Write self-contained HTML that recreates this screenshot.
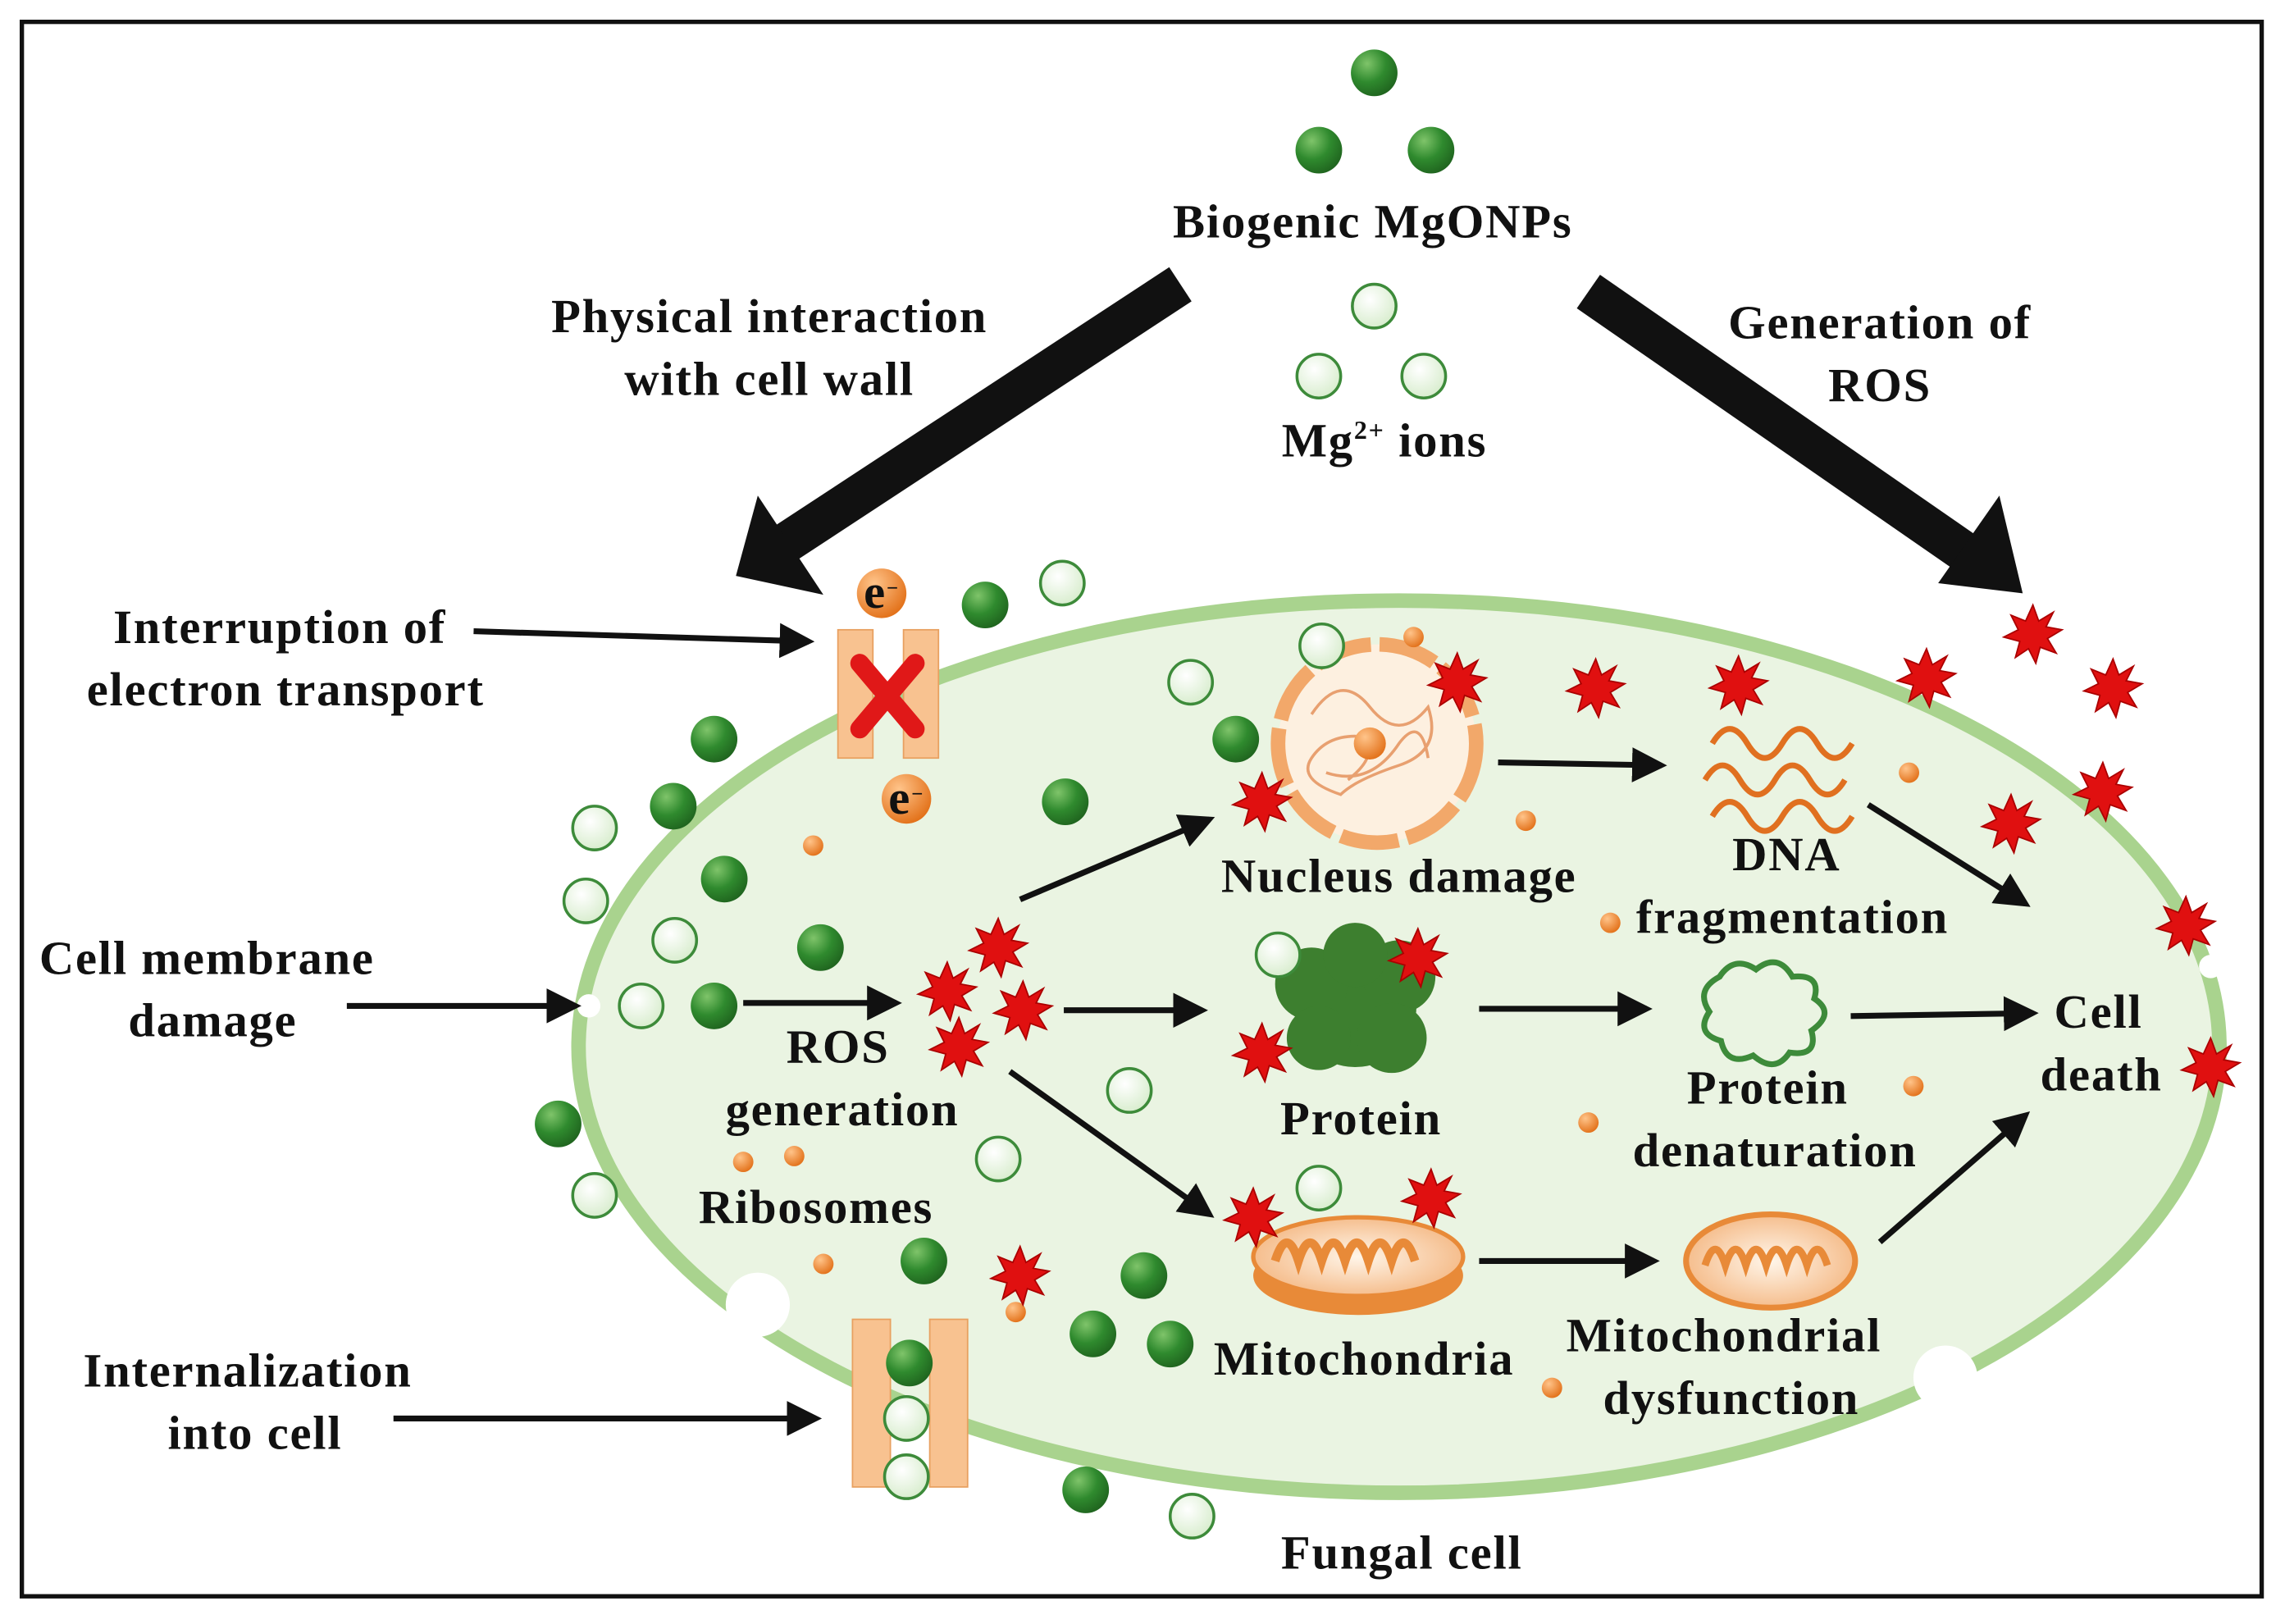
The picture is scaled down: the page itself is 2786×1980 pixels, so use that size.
<!DOCTYPE html>
<html><head><meta charset="utf-8"><style>
html,body{margin:0;padding:0;background:#fff;}
svg{display:block;}
text{font-family:"Liberation Serif",serif;font-weight:bold;fill:#111;font-size:33px;letter-spacing:1px;text-anchor:middle;}
</style></head><body>
<svg width="2786" height="1980" viewBox="0 0 1568 1114" preserveAspectRatio="none" xmlns="http://www.w3.org/2000/svg">
<defs>
<radialGradient id="dg" cx="0.35" cy="0.3" r="0.8"><stop offset="0" stop-color="#7fc46a"/><stop offset="0.5" stop-color="#2f8a2e"/><stop offset="1" stop-color="#1d5e1c"/></radialGradient>
<radialGradient id="lg" cx="0.4" cy="0.35" r="0.7"><stop offset="0" stop-color="#ffffff"/><stop offset="1" stop-color="#d6eccb"/></radialGradient>
<radialGradient id="og" cx="0.35" cy="0.3" r="0.8"><stop offset="0" stop-color="#ffc48a"/><stop offset="1" stop-color="#e06a10"/></radialGradient>
<radialGradient id="mg" cx="0.5" cy="0.5" r="0.6"><stop offset="0" stop-color="#fff6ea"/><stop offset="1" stop-color="#f3b27a"/></radialGradient>
<marker id="ah" markerWidth="6" markerHeight="6" refX="5" refY="3" orient="auto" markerUnits="strokeWidth"><path d="M0,0 L6,3 L0,6 z" fill="#111"/></marker>
<g id="star"><polygon points="0,-20 4,-9 14,-15 9,-5 20,-3 10,3 16,13 5,9 2,20 -3,10 -12,16 -9,5 -20,2 -10,-3 -15,-13 -5,-9" fill="#e01010" stroke="#a00" stroke-width="1"/></g>
<g id="d"><circle r="16" fill="url(#dg)"/></g>
<g id="l"><circle r="15" fill="url(#lg)" stroke="#3d8b3a" stroke-width="2"/></g>
<g id="o"><circle r="7" fill="url(#og)"/></g>
</defs>
<rect x="0" y="0" width="1568" height="1114" fill="#fff"/>
<rect x="15" y="15" width="1537" height="1080" fill="none" stroke="#111" stroke-width="3"/>

<ellipse cx="960" cy="718" rx="563" ry="306" fill="#eaf4e2" stroke="#a9d38e" stroke-width="10"/>
<circle cx="404" cy="690" r="8" fill="#fff"/>
<circle cx="520" cy="895" r="22" fill="#fff"/>
<circle cx="1335" cy="945" r="22" fill="#fff"/>
<circle cx="1517" cy="663" r="8" fill="#fff"/>

<line x1="810" y1="195" x2="540" y2="372" stroke="#111" stroke-width="28"/>
<polygon points="505,395 520,340 565,408" fill="#111"/>
<line x1="1090" y1="200" x2="1350" y2="380" stroke="#111" stroke-width="28"/>
<polygon points="1388,407 1330,400 1372,340" fill="#111"/>

<text x="942" y="163">Biogenic MgONPs</text>
<text x="950" y="313">Mg<tspan font-size="18" dy="-12">2+</tspan><tspan dy="12"> ions</tspan></text>
<text x="528" y="228">Physical interaction</text>
<text x="528" y="271">with cell wall</text>
<text x="1290" y="232">Generation of</text>
<text x="1290" y="275">ROS</text>
<text x="192" y="441">Interruption of</text>
<text x="196" y="484">electron transport</text>
<text x="142" y="668">Cell membrane</text>
<text x="146" y="711">damage</text>
<text x="170" y="951">Internalization</text>
<text x="175" y="994">into cell</text>
<text x="575" y="729">ROS</text>
<text x="578" y="772">generation</text>
<text x="560" y="839">Ribosomes</text>
<text x="960" y="612">Nucleus damage</text>
<text x="1226" y="597">DNA</text>
<text x="1230" y="640">fragmentation</text>
<text x="934" y="778">Protein</text>
<text x="1213" y="757">Protein</text>
<text x="1218" y="800">denaturation</text>
<text x="936" y="943">Mitochondria</text>
<text x="1183" y="927">Mitochondrial</text>
<text x="1188" y="970">dysfunction</text>
<text x="1440" y="705">Cell</text>
<text x="1442" y="748">death</text>
<text x="962" y="1076">Fungal cell</text>

<g stroke="#111" stroke-width="4" fill="none" marker-end="url(#ah)">
<line x1="325" y1="433" x2="555" y2="440"/>
<line x1="238" y1="690" x2="395" y2="690"/>
<line x1="270" y1="973" x2="560" y2="973"/>
<line x1="510" y1="688" x2="615" y2="688"/>
<line x1="700" y1="617" x2="830" y2="562"/>
<line x1="730" y1="693" x2="825" y2="693"/>
<line x1="693" y1="735" x2="830" y2="833"/>
<line x1="1028" y1="523" x2="1140" y2="525"/>
<line x1="1015" y1="692" x2="1130" y2="692"/>
<line x1="1015" y1="865" x2="1135" y2="865"/>
<line x1="1282" y1="552" x2="1390" y2="620"/>
<line x1="1270" y1="697" x2="1395" y2="695"/>
<line x1="1290" y1="852" x2="1390" y2="765"/>
</g>

<rect x="575" y="432" width="24" height="88" fill="#f8c290" stroke="#e8a060"/>
<rect x="620" y="432" width="24" height="88" fill="#f8c290" stroke="#e8a060"/>
<path d="M590,455 L628,500 M628,455 L590,500" stroke="#e01818" stroke-width="13" stroke-linecap="round"/>
<circle cx="605" cy="407" r="17" fill="url(#og)"/><text x="605" y="417" font-size="22" letter-spacing="0">e<tspan font-size="14" dy="-9">−</tspan></text>
<circle cx="622" cy="548" r="17" fill="url(#og)"/><text x="622" y="558" font-size="22" letter-spacing="0">e<tspan font-size="14" dy="-9">−</tspan></text>

<rect x="585" y="905" width="26" height="115" fill="#f8c290" stroke="#e8a060"/>
<rect x="638" y="905" width="26" height="115" fill="#f8c290" stroke="#e8a060"/>

<circle cx="945" cy="510" r="68" fill="#fdf0e0" stroke="#f2a86a" stroke-width="10" stroke-dasharray="40 6"/>
<path d="M900,490 q20,-30 40,-5 t40,0 q10,30 -20,40 t-40,20 q-30,-10 -20,-25 t30,-15 q20,10 -5,30 M910,530 q30,10 50,-20 q15,-20 20,10" stroke="#e8a070" stroke-width="2" fill="none"/>
<circle cx="940" cy="510" r="11" fill="url(#og)"/>

<g fill="#3d7f2f">
<circle cx="930" cy="690" r="42"/><circle cx="900" cy="675" r="25"/><circle cx="960" cy="670" r="25"/><circle cx="905" cy="712" r="22"/><circle cx="955" cy="712" r="24"/><circle cx="930" cy="655" r="22"/>
</g>
<path d="M1180,670 q10,-15 25,-5 q15,-12 25,5 q20,-2 15,15 q15,10 -2,22 q5,18 -15,15 q-10,15 -25,2 q-18,8 -22,-10 q-18,-5 -8,-20 q-10,-15 7,-24z" fill="none" stroke="#3d8b3a" stroke-width="4"/>
<path d="M1175,510 q12,-20 24,0 t24,0 t24,0 t24,0 M1170,535 q12,-20 24,0 t24,0 t24,0 t24,0 M1175,560 q12,-20 24,0 t24,0 t24,0 t24,0" stroke="#e07020" stroke-width="4" fill="none"/>

<ellipse cx="932" cy="875" rx="72" ry="27" fill="#e88a38"/>
<ellipse cx="932" cy="862" rx="72" ry="27" fill="url(#mg)" stroke="#e88a38" stroke-width="3"/>
<path d="M875,865 q8,-25 16,0 q8,-25 16,0 q8,-25 16,0 q8,-25 16,0 q8,-25 16,0 q8,-25 16,0" stroke="#e88a38" stroke-width="6" fill="none"/>
<ellipse cx="1215" cy="865" rx="58" ry="32" fill="url(#mg)" stroke="#e88a38" stroke-width="4"/>
<path d="M1170,868 q7,-22 14,0 q7,-22 14,0 q7,-22 14,0 q7,-22 14,0 q7,-22 14,0 q7,-22 14,0" stroke="#e88a38" stroke-width="5" fill="none"/>

<g>
<use href="#d" x="943" y="50"/><use href="#d" x="905" y="103"/><use href="#d" x="982" y="103"/>
<use href="#d" x="676" y="415"/><use href="#d" x="490" y="507"/><use href="#d" x="462" y="553"/>
<use href="#d" x="497" y="603"/><use href="#d" x="563" y="650"/><use href="#d" x="490" y="690"/>
<use href="#d" x="383" y="771"/><use href="#d" x="731" y="550"/><use href="#d" x="848" y="507"/>
<use href="#d" x="634" y="865"/><use href="#d" x="785" y="875"/><use href="#d" x="750" y="915"/>
<use href="#d" x="803" y="922"/><use href="#d" x="624" y="935"/><use href="#d" x="745" y="1022"/>
<use href="#l" x="943" y="210"/><use href="#l" x="905" y="258"/><use href="#l" x="977" y="258"/>
<use href="#l" x="729" y="400"/><use href="#l" x="907" y="443"/><use href="#l" x="817" y="468"/>
<use href="#l" x="408" y="568"/><use href="#l" x="402" y="618"/><use href="#l" x="463" y="645"/>
<use href="#l" x="440" y="690"/><use href="#l" x="775" y="748"/><use href="#l" x="685" y="795"/>
<use href="#l" x="877" y="655"/><use href="#l" x="905" y="815"/><use href="#l" x="408" y="820"/>
<use href="#l" x="622" y="973"/><use href="#l" x="622" y="1013"/><use href="#l" x="818" y="1040"/>
<use href="#o" x="970" y="437"/><use href="#o" x="558" y="580"/><use href="#o" x="1047" y="563"/>
<use href="#o" x="1105" y="633"/><use href="#o" x="1310" y="530"/><use href="#o" x="1090" y="770"/>
<use href="#o" x="1313" y="745"/><use href="#o" x="510" y="797"/><use href="#o" x="545" y="793"/>
<use href="#o" x="565" y="867"/><use href="#o" x="1065" y="952"/><use href="#o" x="697" y="900"/>
<use href="#star" x="685" y="650"/><use href="#star" x="650" y="680"/><use href="#star" x="702" y="693"/>
<use href="#star" x="658" y="718"/><use href="#star" x="1000" y="468"/><use href="#star" x="866" y="550"/>
<use href="#star" x="973" y="657"/><use href="#star" x="866" y="722"/><use href="#star" x="860" y="835"/>
<use href="#star" x="982" y="822"/><use href="#star" x="1095" y="472"/><use href="#star" x="1193" y="470"/>
<use href="#star" x="1322" y="465"/><use href="#star" x="1395" y="435"/><use href="#star" x="1450" y="472"/>
<use href="#star" x="1380" y="565"/><use href="#star" x="1443" y="543"/><use href="#star" x="1500" y="635"/>
<use href="#star" x="1517" y="732"/><use href="#star" x="700" y="875"/>
</g>
</svg>
</body></html>
